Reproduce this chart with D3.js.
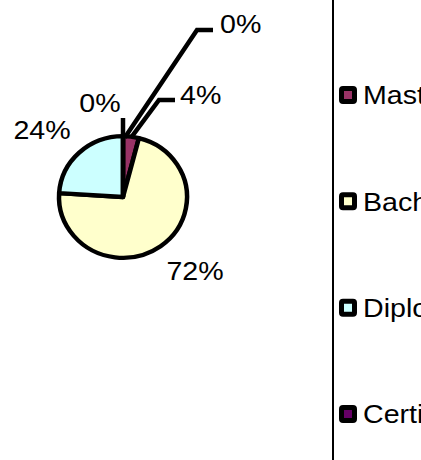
<!DOCTYPE html>
<html><head><meta charset="utf-8">
<script src="https://cdn.jsdelivr.net/npm/d3@7"></script>
<style>body{margin:0;background:#fff}svg{display:block}text{font-family:"Liberation Sans",Arial,sans-serif}</style>
</head><body><svg id="c" width="421" height="460"></svg>
<script>
const categories = ["PhD", "Masters", "Bachelor", "Diploma", "Certificate"];
const values = [0, 4, 72, 24, 0];
const colors = ["#9999FF", "#993366", "#FFFFCC", "#CCFFFF", "#660066"];
const labels = ["0%", "4%", "72%", "24%", "0%"];
// label layout: text anchor point, optional elbow/end for leader line
const labelLayout = [
  {tx: 220, ty: 24, anchor: "start", elbow: [197, 30], end: [213, 30], startOff: 0.03},
  {tx: 180, ty: 95, anchor: "start", elbow: [159, 100], end: [175, 100], startOff: 0},
  {tx: 195, ty: 271, anchor: "middle"},
  {tx: 42, ty: 130, anchor: "middle"},
  {tx: 100, ty: 103, anchor: "middle", vline: [118]}
];

const svg = d3.select("#c");
const cx = 123, cy = 197, R = 64, sy = 0.95, SW = 4.5, XS = 1.1;
const pie = d3.pie().sort(null).value(d => d)(values);
const arc = d3.arc().innerRadius(0).outerRadius(R);

const g = svg.append("g").attr("transform", `translate(${cx},${cy}) scale(1,${sy})`);
g.selectAll("path").data(pie).join("path")
  .attr("d", arc)
  .attr("fill", (d, i) => colors[i])
  .attr("stroke", "#000").attr("stroke-width", SW).attr("stroke-linejoin", "round");

function edgePoint(a, r) {
  return [cx + Math.sin(a) * r, cy - Math.cos(a) * r * sy];
}

pie.forEach((d, i) => {
  const L = labelLayout[i];
  const mid = (d.startAngle + d.endAngle) / 2 + (L.startOff || 0);
  if (L.elbow) {
    const p = edgePoint(mid, R * 0.98);
    svg.append("path")
      .attr("d", d3.line()([p, L.elbow, L.end]))
      .attr("fill", "none").attr("stroke", "#000").attr("stroke-width", SW);
  }
  if (L.vline) {
    const p = edgePoint(mid, R);
    svg.append("line").attr("x1", p[0]).attr("y1", p[1]).attr("x2", p[0]).attr("y2", L.vline[0])
      .attr("stroke", "#000").attr("stroke-width", SW);
  }
});

svg.selectAll("g.lbl").data(pie).join("g").attr("class", "lbl")
  .attr("transform", (d, i) => `translate(${labelLayout[i].tx},${labelLayout[i].ty}) scale(${XS},1)`)
  .append("text")
  .attr("dy", "0.35em")
  .attr("text-anchor", (d, i) => labelLayout[i].anchor)
  .attr("font-size", 26)
  .attr("fill", "#000")
  .text((d, i) => labels[i]);

// legend (entry 0 falls above the visible area in the reference, so only visible entries are drawn)
svg.append("line").attr("x1", 333).attr("x2", 333).attr("y1", 0).attr("y2", 460)
  .attr("stroke", "#000").attr("stroke-width", 2);
const ly = d3.scaleLinear().domain([1, 4]).range([95, 414]);
const legendItems = categories.map((c, i) => ({c, i})).filter(d => ly(d.i) > 0);
const lg = svg.selectAll("g.leg").data(legendItems).join("g").attr("class", "leg")
  .attr("transform", d => `translate(339,${ly(d.i)})`);
lg.append("rect").attr("x", 2.5).attr("y", -6.5).attr("width", 13).attr("height", 13).attr("rx", 1.5)
  .attr("fill", d => colors[d.i]).attr("stroke", "#000").attr("stroke-width", 5);
lg.append("g").attr("transform", `translate(24,0) scale(${XS},1)`).append("text")
  .attr("dy", "0.36em")
  .attr("font-size", 26).attr("fill", "#000").text(d => d.c);
</script></body></html>
